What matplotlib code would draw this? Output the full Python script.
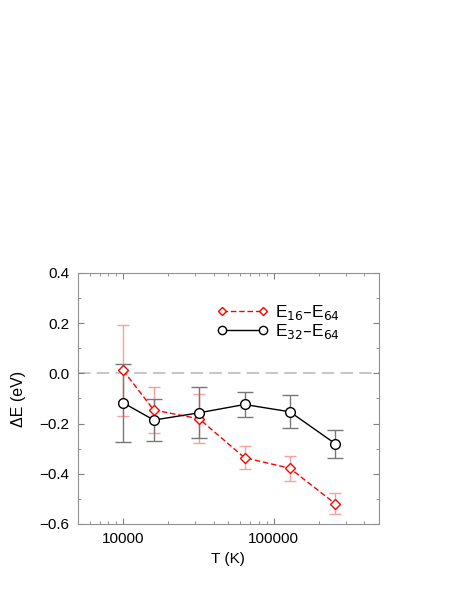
import numpy as np
import matplotlib
matplotlib.use("Agg")
import matplotlib.pyplot as plt
from matplotlib.ticker import MultipleLocator, FixedLocator, NullFormatter

plt.rcParams['font.family'] = ['Liberation Sans', 'DejaVu Sans']

T = [10000, 16000, 32000, 64000, 128000, 256000]
dE_16 = [0.012, -0.146, -0.181, -0.336, -0.378, -0.519]
err_16 = [0.181, 0.092, 0.097, 0.046, 0.049, 0.041]
dE_32 = [-0.117, -0.186, -0.157, -0.124, -0.153, -0.280]
err_32 = [0.156, 0.085, 0.101, 0.048, 0.065, 0.056]

fig = plt.figure(figsize=(4.58, 5.92), dpi=100)
ax = fig.add_axes([0.1697, 0.1149, 0.6578, 0.424])

ax.axhline(0.0, color='#c8c8c8', lw=1.5, dashes=(6, 3), zorder=1)

ax.errorbar(T, dE_16, yerr=err_16, fmt='none', ecolor='#f6a0a0', elinewidth=1,
            capsize=4, capthick=1, zorder=2)
ax.errorbar(T, dE_32, yerr=err_32, fmt='none', ecolor='#777777', elinewidth=1,
            capsize=6, capthick=1, zorder=2)

ax.plot(T, dE_16, color='red', ls='--', dashes=(4, 2), lw=1, marker='D',
        ms=5, mfc='white', mec='red', mew=1, zorder=3,
        label='E$_{16}$\u2013E$_{64}$')
ax.plot(T, dE_32, color='black', ls='-', lw=1, marker='o', ms=7,
        mfc='white', mec='black', mew=1, zorder=3,
        label='E$_{32}$\u2013E$_{64}$')

ax.set_xscale('log')
ax.set_xlim(5000, 500000)
ax.set_ylim(-0.6, 0.4)
ax.xaxis.set_major_locator(FixedLocator([10000, 100000]))
ax.set_xticklabels(['10000', '100000'])
ax.xaxis.set_minor_locator(FixedLocator(
    [m * d for d in (1000, 10000, 100000) for m in range(2, 10)
     if 5000 <= m * d <= 500000]))
ax.xaxis.set_minor_formatter(NullFormatter())
ax.yaxis.set_minor_locator(MultipleLocator(0.1))
ax.set_yticks([-0.6, -0.4, -0.2, 0.0, 0.2, 0.4])
ax.set_yticklabels(['\u22120.6', '\u22120.4', '\u22120.2', '0.0', '0.2', '0.4'])

ax.tick_params(which='both', direction='in', top=True, right=True,
               color='#808080', labelsize=11, pad=6)
ax.tick_params(which='major', length=4)
ax.tick_params(which='minor', length=2)
for s in ax.spines.values():
    s.set_color('#909090')
    s.set_linewidth(0.8)

ax.set_xlabel('T (K)', fontsize=11, labelpad=4)
ax.set_ylabel('\u0394E (eV)', fontsize=11.5, labelpad=10)

ax.legend(loc='upper left', bbox_to_anchor=(0.42, 0.93), frameon=False,
          fontsize=12.5, numpoints=2, markerscale=0.85, handlelength=3.0,
          handletextpad=0.4, labelspacing=0.0, borderpad=0.2)

fig.savefig('out.png', dpi=100)
